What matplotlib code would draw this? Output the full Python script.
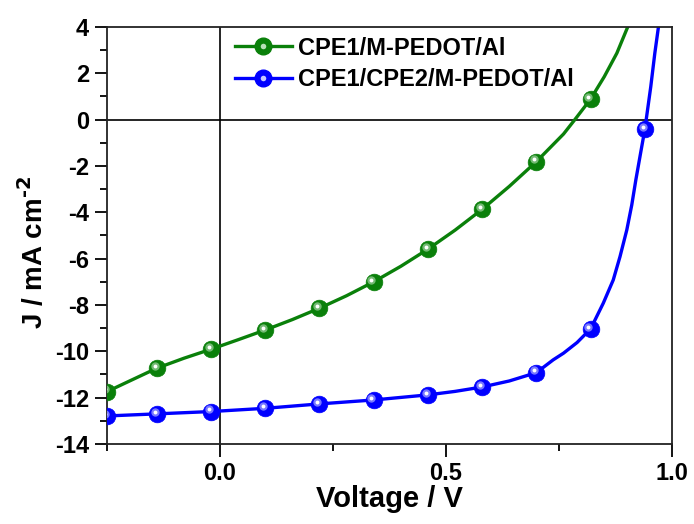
import numpy as np
import matplotlib
matplotlib.use('Agg')
import matplotlib.pyplot as plt
from matplotlib.transforms import offset_copy
from matplotlib.legend_handler import HandlerTuple

plt.rcParams['font.family'] = ['Liberation Sans', 'DejaVu Sans']
plt.rcParams['font.weight'] = 'bold'
plt.rcParams['axes.unicode_minus'] = False

# marker points
green_v = [-0.25, -0.14, -0.02, 0.10, 0.22, 0.34, 0.46, 0.58, 0.70, 0.82]
green_j = [-11.74, -10.73, -9.91, -9.08, -8.14, -7.00, -5.59, -3.87, -1.81, 0.89]
blue_v = [-0.25, -0.14, -0.02, 0.10, 0.22, 0.34, 0.46, 0.58, 0.70, 0.82, 0.94]
blue_j = [-12.79, -12.70, -12.60, -12.46, -12.27, -12.10, -11.88, -11.54, -10.92, -9.03, -0.41]

# the measured curves (denser where they bend)
green_line_v = [-0.27, -0.25, -0.20, -0.14, -0.08, -0.02, 0.04, 0.10, 0.16, 0.22, 0.28, 0.34,
                0.40, 0.46, 0.52, 0.58, 0.64, 0.70, 0.76, 0.785, 0.82, 0.85, 0.878, 0.902, 0.92]
green_line_j = [-11.92, -11.74, -11.28, -10.73, -10.30, -9.91, -9.50, -9.08, -8.63, -8.14, -7.60, -7.00,
                -6.33, -5.59, -4.77, -3.87, -2.88, -1.81, -0.62, 0.00, 0.89, 1.85, 2.87, 4.00, 5.00]
blue_line_v = [-0.27, -0.25, -0.14, -0.02, 0.10, 0.22, 0.34, 0.46, 0.52, 0.58, 0.64, 0.70, 0.737,
               0.76, 0.79, 0.82, 0.848, 0.870, 0.885, 0.900, 0.911, 0.920, 0.930, 0.94, 0.953,
               0.962, 0.970, 0.978]
blue_line_j = [-12.81, -12.79, -12.70, -12.60, -12.46, -12.27, -12.10, -11.88, -11.73, -11.54, -11.28,
               -10.92, -10.37, -10.08, -9.62, -9.03, -7.92, -6.92, -5.91, -4.76, -3.68, -2.60, -1.50,
               -0.41, 1.42, 2.87, 4.00, 5.20]

fig = plt.figure(figsize=(6.94, 5.24), dpi=100)
ax = fig.add_axes([0.1542, 0.1527, 0.8141, 0.7958])

ax.axhline(0, color='black', lw=1.2, zorder=1)
ax.axvline(0, color='black', lw=1.2, zorder=1)


def sphere(v, j, line_v, line_j, col, light):
    ax.plot(line_v, line_j, color=col, lw=2.4, zorder=2)
    ax.plot(v, j, ls='none', marker='o', ms=12, mfc=col, mec=col, mew=0.5, zorder=3)
    shift = offset_copy(ax.transData, fig=fig, x=-1.6, y=1.6, units='points')
    ax.plot(v, j, ls='none', marker='o', ms=6, mfc=light, mec='none', alpha=0.6,
            transform=shift, zorder=4)
    ax.plot(v, j, ls='none', marker='o', ms=2.8, mfc='white', mec='none',
            transform=shift, zorder=5)
    h1, = ax.plot([], [], color=col, lw=2.4, marker='o', ms=12, mfc=col, mec=col)
    h2, = ax.plot([], [], ls='none', marker='o', ms=4, mfc=light, mec='none')
    return (h1, h2)


g = sphere(green_v, green_j, green_line_v, green_line_j, '#0a800a', '#b8e0b8')
b = sphere(blue_v, blue_j, blue_line_v, blue_line_j, '#0000ff', '#c8c8ff')

ax.set_xlim(-0.25, 1.0)
ax.set_ylim(-14, 4)
ax.set_xticks([0.0, 0.5, 1.0])
ax.set_xticks([-0.25, 0.25, 0.75], minor=True)
ax.set_yticks(np.arange(-14, 5, 2))
ax.set_yticks(np.arange(-13, 4, 2), minor=True)
ax.set_xticklabels(['0.0', '0.5', '1.0'])
ax.tick_params(which='major', direction='out', length=9, width=1.3, labelsize=17, pad=4,
               top=False, right=False)
ax.tick_params(which='minor', direction='out', length=5, width=1.3, top=False, right=False)
for s in ax.spines.values():
    s.set_linewidth(1.3)
    s.set_color('#222222')

ax.set_xlabel('Voltage / V', fontsize=21, fontweight='bold', labelpad=0)
ax.set_ylabel('J / mA cm$^{\\text{-}\\mathbf{2}}$', fontsize=20, fontweight='bold')
ax.yaxis.set_label_coords(-0.103, 0.46)

ax.legend([g, b], ['CPE1/M-PEDOT/Al', 'CPE1/CPE2/M-PEDOT/Al'],
          handler_map={tuple: HandlerTuple(ndivide=1, pad=0)},
          loc='upper left', bbox_to_anchor=(0.325, 0.948), bbox_transform=fig.transFigure,
          frameon=False, fontsize=17, handlelength=2.4, handletextpad=0.25, labelspacing=0.35,
          borderaxespad=0)

fig.savefig('out.png', dpi=100)
